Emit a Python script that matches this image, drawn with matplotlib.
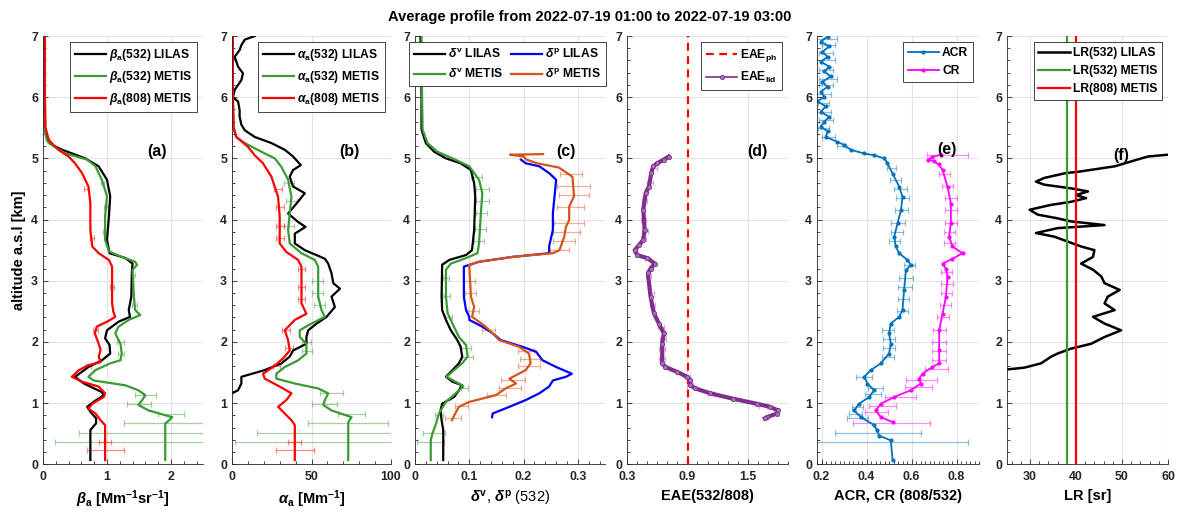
import matplotlib
matplotlib.use('Agg')
import matplotlib.pyplot as plt
from matplotlib.ticker import AutoMinorLocator, MultipleLocator

plt.rcParams['font.family'] = ['Liberation Sans', 'DejaVu Sans']
plt.rcParams['font.weight'] = 'bold'
plt.rcParams['axes.labelweight'] = 'bold'
plt.rcParams['mathtext.fontset'] = 'custom'
plt.rcParams['mathtext.rm'] = 'Liberation Sans'
plt.rcParams['mathtext.it'] = 'Liberation Sans:italic'
plt.rcParams['mathtext.bf'] = 'Liberation Sans:bold'

# ---------------- data ----------------
# (a) backscatter
a_alt_lilas = [7.0, 6.0, 5.5, 5.35, 5.22, 5.14, 5.0, 4.87, 4.65, 4.38, 4.05, 3.67, 3.45, 3.37, 3.28, 3.18, 2.74, 2.52,
               2.41, 2.33, 2.19, 2.06, 1.95, 1.81, 1.70, 1.59, 1.43, 1.32, 1.18, 1.13, 1.02, 0.94, 0.86, 0.75, 0.67,
               0.56, 0.07]
a_beta532_lilas = [0.02, 0.02, 0.03, 0.06, 0.14, 0.30, 0.66, 0.87, 1.0, 1.05, 1.03, 1.0, 1.04, 1.29, 1.40, 1.39, 1.38,
                   1.34, 1.36, 1.18, 1.0, 0.97, 1.04, 1.05, 0.92, 0.71, 0.5, 0.64, 0.92, 0.95, 0.79, 0.69, 0.74, 0.83,
                   0.83, 0.74, 0.74]
a_alt_532_met = [7.0, 6.0, 5.5, 5.3, 5.25, 5.08, 4.98, 4.87, 4.65, 4.38, 4.05, 3.67, 3.48, 3.39, 3.31, 3.26, 3.18, 2.74,
                 2.52, 2.44, 2.36, 2.25, 2.14, 1.97, 1.81, 1.70, 1.65, 1.54, 1.43, 1.37, 1.29, 1.21, 1.13, 1.05, 0.97,
                 0.88, 0.77, 0.69, 0.67, 0.07]
a_beta532_met = [0.0, 0.0, 0.02, 0.06, 0.09, 0.35, 0.69, 0.82, 0.92, 1.0, 0.97, 0.97, 1.03, 1.23, 1.44, 1.47, 1.40, 1.42,
                 1.44, 1.52, 1.34, 1.18, 1.13, 1.21, 1.23, 1.21, 1.05, 0.82, 0.71, 0.79, 1.29, 1.49, 1.6, 1.55, 1.49,
                 1.65, 2.02, 1.94, 1.91, 1.91]
a_alt_808_met = [7.0, 6.0, 5.5, 5.30, 5.14, 5.03, 4.92, 4.76, 4.54, 4.27, 3.83, 3.56, 3.45, 3.34, 3.23, 2.63, 2.49, 2.41,
                 2.33, 2.25, 2.14, 1.97, 1.87, 1.76, 1.67, 1.62, 1.54, 1.43, 1.35, 1.27, 1.16, 1.10, 0.99, 0.91, 0.83,
                 0.72, 0.64, 0.07]
a_beta808_met = [0.03, 0.03, 0.04, 0.09, 0.24, 0.40, 0.5, 0.61, 0.71, 0.74, 0.74, 0.77, 0.87, 1.03, 1.08, 1.08, 1.10,
                 1.13, 1.0, 0.84, 0.81, 0.87, 0.90, 0.87, 0.9, 0.71, 0.56, 0.45, 0.61, 0.87, 0.97, 0.95, 0.77, 0.71,
                 0.82, 0.90, 0.97, 0.97]
a_err532_alt = [4.6, 4.2, 3.8, 3.1, 2.6, 2.0, 1.8, 1.13, 0.98, 0.83, 0.67, 0.51, 0.37]
a_err532_x = [0.93, 0.99, 0.97, 1.40, 1.43, 1.21, 1.22, 1.6, 1.5, 2.0, 1.91, 1.91, 1.91]
a_err532_dx = [0.03, 0.03, 0.03, 0.03, 0.04, 0.05, 0.05, 0.17, 0.19, 0.2, 0.65, 1.35, 1.72]
a_err808_alt = [4.5, 3.7, 2.9, 2.2, 1.6, 0.37, 0.23]
a_err808_x = [0.67, 0.76, 1.08, 0.82, 0.71, 0.97, 0.97]
a_err808_dx = [0.03, 0.03, 0.03, 0.04, 0.04, 0.1, 0.29]

# (b) extinction
b_alt_lilas = [7.0, 6.94, 6.85, 6.77, 6.66, 6.5, 6.39, 6.28, 6.12, 6.0, 5.93, 5.79, 5.68, 5.55, 5.46, 5.35, 5.25, 5.14,
               5.03, 4.89, 4.81, 4.70, 4.54, 4.43, 4.26, 4.10, 3.96, 3.88, 3.77, 3.61, 3.50, 3.36, 3.28, 3.12, 2.96,
               2.87, 2.74, 2.57, 2.41, 2.30, 2.19, 2.08, 1.97, 1.86, 1.76, 1.65, 1.54, 1.43, 1.32, 1.21, 1.16]
b_alpha532_lilas = [14.3, 8, 5.9, 4.8, 1.7, 3.8, 6.9, 5.9, 1.7, 0.6, 3.8, 4.8, 4.8, 5.9, 8, 14.3, 24.8, 33.2, 38.4,
                    43.3, 38.4, 36.3, 38.4, 45.8, 40.5, 35.3, 41.6, 46.2, 39.5, 39.5, 45.8, 58.4, 60.5, 62.6, 63.7,
                    67.9, 62.6, 64.7, 59.5, 53.2, 47.9, 46.8, 46.8, 38.4, 36.3, 31.1, 20.6, 5.9, 5.9, 3.8, 0]
b_alt_532_met = [7.0, 6.0, 5.5, 5.35, 5.25, 5.08, 5.0, 4.86, 4.65, 4.37, 4.10, 3.83, 3.61, 3.45, 3.34, 3.23, 2.74, 2.52,
                 2.41, 2.30, 2.19, 2.08, 1.97, 1.81, 1.70, 1.59, 1.48, 1.40, 1.32, 1.24, 1.16, 1.05, 0.97, 0.88, 0.77,
                 0.69, 0.07]
b_alpha532_met = [0.5, 0.5, 1.0, 2.7, 8, 20.6, 26.9, 31.1, 35.3, 37.4, 36.3, 35.3, 36.3, 43.7, 52.1, 54.2, 54.2, 56.3,
                  58.4, 50, 42.6, 42.6, 46.8, 46.8, 41.6, 33.2, 27.9, 27.9, 39.5, 54.2, 60.5, 58.4, 57.4, 62.6, 75.2,
                  73.1, 73.1]
b_alt_808_met = [7.0, 6.0, 5.5, 5.35, 5.19, 5.05, 4.92, 4.70, 4.37, 4.05, 3.61, 3.47, 3.34, 3.23, 2.63, 2.46, 2.36, 2.19,
                 2.03, 1.86, 1.73, 1.59, 1.48, 1.40, 1.27, 1.16, 1.05, 0.94, 0.83, 0.72, 0.64, 0.07]
b_alpha808_met = [0.5, 0.6, 1.0, 2.7, 10, 14.3, 19.5, 24.8, 29, 30, 30, 34.2, 41.6, 43.7, 43.7, 46.8, 39.5, 33.2, 35.3,
                  36.3, 32.1, 25.8, 19.5, 20.6, 30, 37.4, 34.2, 29, 33.2, 37.4, 39.5, 39.5]
b_err532_alt = [4.6, 4.3, 3.9, 3.0, 2.8, 2.6, 2.0, 1.85, 1.16, 0.99, 0.83, 0.67, 0.51, 0.37]
b_err532_x = [36, 37.5, 36, 54, 54, 55, 46.8, 47, 62.6, 58, 75, 73, 73, 73]
b_err532_dx = [3, 3.5, 3, 3.4, 3.4, 3.4, 3, 3, 7.4, 8, 8.5, 25, 57, 71]
b_err808_alt = [4.5, 4.2, 3.9, 3.7, 3.2, 2.9, 2.7, 2.2, 1.9, 1.6, 0.37, 0.23]
b_err808_x = [29, 30, 30, 30, 43.7, 43.7, 43.7, 34, 36, 28, 39.5, 39.5]
b_err808_dx = [2.5, 2.5, 2.5, 2.5, 2.5, 2.5, 2.5, 2.5, 2.5, 2.5, 4, 12]

# (c) depolarization
c_alt_dv_lilas = [7.0, 6.0, 5.47, 5.25, 5.11, 5.0, 4.92, 4.81, 4.59, 4.38, 3.83, 3.50, 3.42, 3.34, 3.26, 2.74, 2.52,
                  2.36, 2.19, 2.03, 1.92, 1.76, 1.65, 1.54, 1.43, 1.35, 1.29, 1.21, 1.10, 0.99, 0.88, 0.72, 0.56, 0.07]
c_dv_lilas = [0.01, 0.012, 0.012, 0.02, 0.035, 0.057, 0.084, 0.103, 0.109, 0.111, 0.109, 0.105, 0.094, 0.063, 0.05,
              0.049, 0.05, 0.057, 0.066, 0.078, 0.084, 0.087, 0.081, 0.069, 0.057, 0.069, 0.087, 0.081, 0.072, 0.05,
              0.047, 0.049, 0.052, 0.052]
c_alt_dv_met = [7.0, 6.0, 5.47, 5.25, 5.11, 5.0, 4.87, 4.65, 4.43, 4.05, 3.61, 3.45, 3.37, 3.28, 3.18, 2.74, 2.47, 2.30,
                2.08, 1.95, 1.76, 1.65, 1.54, 1.43, 1.32, 1.27, 1.16, 1.02, 0.83, 0.67, 0.50, 0.39, 0.07]
c_dv_met = [0.012, 0.013, 0.014, 0.023, 0.041, 0.069, 0.1, 0.118, 0.124, 0.121, 0.118, 0.115, 0.094, 0.066, 0.057,
            0.057, 0.06, 0.069, 0.081, 0.094, 0.097, 0.087, 0.072, 0.058, 0.081, 0.089, 0.075, 0.057, 0.044, 0.039,
            0.032, 0.029, 0.029]
c_alt_dp_lilas = [4.98, 4.92, 4.87, 4.76, 4.65, 4.38, 4.10, 3.83, 3.56, 3.45, 3.39, 3.31, 3.23, 2.74, 2.52, 2.41, 2.36,
                  2.25, 2.14, 2.03, 1.92, 1.84, 1.70, 1.59, 1.48, 1.43, 1.37, 1.27, 1.16, 1.05, 0.94, 0.83, 0.77]
c_dp_lilas = [0.195, 0.204, 0.229, 0.247, 0.26, 0.257, 0.254, 0.254, 0.247, 0.247, 0.18, 0.118, 0.09, 0.09, 0.094, 0.1,
              0.1, 0.124, 0.143, 0.158, 0.198, 0.223, 0.235, 0.26, 0.289, 0.278, 0.254, 0.247, 0.229, 0.204, 0.174,
              0.143, 0.142]
c_alt_dp_met = [5.07, 5.06, 5.03, 4.98, 4.92, 4.85, 4.70, 4.38, 4.21, 3.99, 3.88, 3.72, 3.50, 3.45, 3.39, 3.31, 3.26,
                2.74, 2.57, 2.41, 2.33, 2.25, 2.14, 2.03, 1.92, 1.81, 1.65, 1.54, 1.40, 1.32, 1.24, 1.13, 1.02, 0.94,
                0.83, 0.72]
c_dp_met = [0.236, 0.175, 0.2, 0.205, 0.225, 0.265, 0.29, 0.293, 0.284, 0.284, 0.278, 0.275, 0.266, 0.254, 0.18, 0.118,
            0.1, 0.103, 0.109, 0.105, 0.118, 0.13, 0.143, 0.155, 0.192, 0.21, 0.213, 0.204, 0.174, 0.186, 0.167, 0.149,
            0.1, 0.081, 0.074, 0.068]
c_errdv_alt = [4.7, 4.5, 4.3, 4.1, 3.85, 3.65, 3.05, 2.75, 2.4, 1.9, 1.75, 1.25, 0.8, 0.51, 0.37]
c_errdv_x = [0.113, 0.124, 0.124, 0.122, 0.12, 0.118, 0.057, 0.058, 0.062, 0.094, 0.097, 0.089, 0.044, 0.035, 0.029]
c_errdv_dx = [0.01, 0.012, 0.012, 0.01, 0.01, 0.01, 0.005, 0.006, 0.006, 0.01, 0.01, 0.008, 0.008, 0.02, 0.025]
c_errdp_alt = [4.75, 4.55, 4.4, 4.2, 3.95, 3.8, 3.65, 3.5, 3.0, 2.8, 2.5, 2.2, 1.85, 1.72, 1.6, 1.38, 1.25, 1.13, 0.95,
               0.75]
c_errdp_x = [0.287, 0.292, 0.293, 0.287, 0.284, 0.279, 0.274, 0.266, 0.101, 0.103, 0.108, 0.135, 0.205, 0.212, 0.21,
             0.18, 0.175, 0.15, 0.085, 0.07]
c_errdp_dx = [0.02, 0.03, 0.028, 0.025, 0.028, 0.025, 0.02, 0.018, 0.01, 0.01, 0.01, 0.012, 0.015, 0.018, 0.02, 0.022,
              0.02, 0.018, 0.012, 0.015]

# (d) extinction angstrom exponent
eae_ph = 0.91
d_alt_lid = [5.03, 4.98, 4.92, 4.87, 4.76, 4.54, 4.43, 4.16, 3.83, 3.67, 3.58, 3.50, 3.42, 3.37, 3.28, 3.20, 3.12, 2.74,
             2.47, 2.30, 2.14, 1.97, 1.65, 1.59, 1.51, 1.43, 1.37, 1.29, 1.24, 1.16, 1.07, 0.99, 0.94, 0.88, 0.83,
             0.77, 0.75]
d_eae_lid = [0.715, 0.666, 0.6, 0.56, 0.541, 0.518, 0.485, 0.462, 0.475, 0.462, 0.419, 0.376, 0.402, 0.501, 0.577, 0.534,
             0.508, 0.534, 0.567, 0.617, 0.666, 0.65, 0.65, 0.682, 0.798, 0.897, 0.93, 0.93, 0.979, 1.128, 1.358,
             1.589, 1.72, 1.80, 1.79, 1.69, 1.67]
d_err_alt = [4.85, 4.6, 4.3, 4.0, 3.82, 3.68, 3.35, 3.08, 2.8, 2.6, 2.25, 2.05, 1.88, 1.72, 1.45, 1.3, 1.15, 0.95]
d_err_x = [0.57, 0.53, 0.47, 0.465, 0.475, 0.46, 0.50, 0.51, 0.54, 0.55, 0.64, 0.655, 0.65, 0.65, 0.90, 0.93, 1.13, 1.65]
d_err_dx = [0.03, 0.03, 0.025, 0.025, 0.03, 0.025, 0.025, 0.025, 0.025, 0.025, 0.03, 0.03, 0.03, 0.03, 0.03, 0.03,
            0.03, 0.04]

# (e) colour ratios
e_alt_acr = [6.99, 6.91, 6.83, 6.74, 6.66, 6.58, 6.50, 6.42, 6.34, 6.25, 6.17, 6.09, 6.01, 5.93, 5.85, 5.76, 5.68, 5.60,
             5.52, 5.44, 5.35, 5.27, 5.22, 5.14, 5.08, 5.05, 5.00, 4.92, 4.75, 4.54, 4.37, 4.15, 3.94, 3.72, 3.56,
             3.45, 3.34, 3.26, 3.17, 2.85, 2.52, 2.41, 2.30, 2.14, 1.97, 1.81, 1.65, 1.54, 1.43, 1.32, 1.21, 1.10,
             0.99, 0.88, 0.77, 0.64, 0.56, 0.47, 0.39, 0.07]
e_acr = [0.227, 0.197, 0.234, 0.204, 0.227, 0.197, 0.234, 0.212, 0.241, 0.204, 0.227, 0.197, 0.212, 0.182, 0.219, 0.197,
         0.234, 0.212, 0.197, 0.227, 0.219, 0.271, 0.3, 0.33, 0.39, 0.434, 0.479, 0.493, 0.516, 0.545, 0.56, 0.553,
         0.538, 0.523, 0.53, 0.545, 0.582, 0.597, 0.575, 0.567, 0.56, 0.545, 0.508, 0.50, 0.508, 0.50, 0.464, 0.419,
         0.39, 0.404, 0.434, 0.412, 0.367, 0.345, 0.375, 0.434, 0.446, 0.456, 0.508, 0.516]
e_alt_cr = [5.06, 5.02, 4.98, 4.95, 4.90, 4.81, 4.54, 4.26, 3.94, 3.72, 3.56, 3.45, 3.36, 3.28, 3.20, 3.06, 2.74, 2.46,
            2.19, 1.86, 1.65, 1.59, 1.48, 1.40, 1.32, 1.21, 1.10, 0.99, 0.88, 0.77, 0.69]
e_cr = [0.73, 0.69, 0.675, 0.70, 0.72, 0.738, 0.76, 0.775, 0.775, 0.767, 0.782, 0.827, 0.782, 0.738, 0.753, 0.76, 0.753,
        0.738, 0.723, 0.723, 0.723, 0.693, 0.649, 0.634, 0.641, 0.597, 0.523, 0.464, 0.441, 0.464, 0.516]
e_erracr_alt = [6.95, 6.85, 6.72, 6.6, 6.45, 6.3, 6.2, 6.05, 5.9, 5.75, 5.62, 5.5, 5.35, 5.2, 4.85, 4.65, 4.5, 4.35,
                4.15, 3.95, 3.8, 3.65, 3.25, 3.05, 2.9, 2.7, 2.5, 2.2, 2.05, 1.9, 1.75, 1.42, 1.25, 1.15, 0.93, 0.83,
                0.75, 0.51, 0.37]
e_erracr_x = [0.22, 0.23, 0.22, 0.22, 0.22, 0.23, 0.22, 0.21, 0.21, 0.21, 0.22, 0.21, 0.23, 0.29, 0.51, 0.53, 0.55,
              0.56, 0.555, 0.54, 0.535, 0.525, 0.59, 0.575, 0.57, 0.565, 0.56, 0.495, 0.50, 0.50, 0.495, 0.39, 0.44,
              0.43, 0.36, 0.35, 0.36, 0.45, 0.51]
e_erracr_dx = [0.05, 0.03, 0.03, 0.04, 0.03, 0.04, 0.03, 0.03, 0.025, 0.03, 0.03, 0.025, 0.03, 0.02, 0.02, 0.025, 0.03,
               0.03, 0.03, 0.03, 0.025, 0.025, 0.025, 0.03, 0.03, 0.025, 0.025, 0.025, 0.025, 0.025, 0.025, 0.035,
               0.035, 0.035, 0.025, 0.03, 0.045, 0.19, 0.34]
e_errcr_alt = [5.06, 4.75, 4.55, 4.35, 4.15, 3.95, 3.8, 3.62, 3.15, 2.95, 2.8, 2.6, 2.4, 2.2, 2.0, 1.85, 1.7, 1.55, 1.38,
               1.27, 1.1, 0.95, 0.85, 0.67]
e_errcr_x = [0.76, 0.745, 0.76, 0.775, 0.775, 0.775, 0.77, 0.77, 0.755, 0.758, 0.755, 0.75, 0.74, 0.725, 0.723, 0.723,
             0.723, 0.71, 0.645, 0.63, 0.55, 0.47, 0.445, 0.51]
e_errcr_dx = [0.09, 0.025, 0.025, 0.025, 0.025, 0.025, 0.025, 0.025, 0.025, 0.025, 0.025, 0.025, 0.025, 0.03, 0.03,
              0.03, 0.03, 0.05, 0.07, 0.06, 0.07, 0.06, 0.05, 0.17]

# (f) lidar ratio
lr532_metis = 38
lr808_metis = 40
f_alt_lilas = [5.06, 5.03, 4.95, 4.87, 4.78, 4.76, 4.68, 4.62, 4.57, 4.51, 4.46, 4.40, 4.35, 4.29, 4.24, 4.16, 4.08,
               4.02, 3.97, 3.91, 3.86, 3.78, 3.72, 3.64, 3.56, 3.50, 3.39, 3.28, 3.18, 3.07, 2.96, 2.85, 2.74, 2.63,
               2.52, 2.41, 2.30, 2.19, 2.08, 1.97, 1.89, 1.81, 1.76, 1.65, 1.58, 1.55]
f_lr532_lilas = [60, 55.6, 52, 48.4, 40.4, 37.8, 33.1, 31.3, 33.1, 38.9, 42.6, 40, 42.2, 38.9, 34.6, 29.9, 31.7, 36,
                 38.9, 46.2, 36, 31.3, 35.3, 38.2, 41.1, 44, 43.7, 41.1, 43.7, 45.5, 46.2, 49.5, 46.9, 46.2, 48.4,
                 43.7, 46.2, 49.8, 46.2, 43.3, 38.9, 36, 34.6, 32.4, 28.8, 25]

BLACK = 'k'
GREEN = '#3a9b35'
RED = '#ff0000'
BLUE = '#0000ff'
ORANGE = '#d95319'
PURPLE = '#7e2f8e'
ACRBLUE = '#0072bd'
MAGENTA = '#ff00ff'


def errs(ax, x, y, dx, color):
    ax.errorbar(x, y, xerr=dx, fmt='none', ecolor=color, alpha=0.45, elinewidth=0.9, capsize=2.2, capthick=0.9)


def style(ax, xlim, xticks, xminor):
    ax.set_xlim(xlim)
    ax.set_ylim(0, 7)
    ax.set_xticks(xticks)
    ax.set_yticks(range(8))
    ax.xaxis.set_minor_locator(AutoMinorLocator(xminor))
    ax.yaxis.set_minor_locator(MultipleLocator(0.2))
    ax.grid(True, color='#e4e4e4', lw=0.8)
    ax.set_axisbelow(True)
    ax.tick_params(direction='in', labelsize=8.9, colors='#262626', length=3.5, width=0.6)
    ax.tick_params(axis='x', pad=5)
    ax.tick_params(which='minor', direction='in', length=2, width=0.5)
    for s in ['top', 'right']:
        ax.spines[s].set_visible(False)
    for s in ['left', 'bottom']:
        ax.spines[s].set_color('#262626')
        ax.spines[s].set_linewidth(0.6)


def legend(ax, right, **kw):
    leg = ax.legend(loc='upper right', bbox_to_anchor=(right, 0.985), borderaxespad=0, fancybox=False, framealpha=1,
                    edgecolor='#262626', fontsize=8.7, handlelength=2.6, handletextpad=0.25, borderpad=0.4,
                    labelspacing=0.5, **kw)
    leg.get_frame().set_linewidth(0.6)


fig = plt.figure(figsize=(11.79, 5.18), dpi=100)
W, H = 1179, 518
panel_px = [(43, 160), (232, 159), (415, 190), (627, 161), (817, 162), (1007, 161)]
axs = [fig.add_axes([x / W, 1 - 464.3 / H, w / W, 428.3 / H]) for x, w in panel_px]

# (a)
ax = axs[0]
errs(ax, a_err532_x, a_err532_alt, a_err532_dx, GREEN)
errs(ax, a_err808_x, a_err808_alt, a_err808_dx, RED)
ax.plot(a_beta532_lilas, a_alt_lilas, color=BLACK, lw=1.6, label=r'$\beta_\mathbf{a}$(532) LILAS')
ax.plot(a_beta532_met, a_alt_532_met, color=GREEN, lw=1.6, label=r'$\beta_\mathbf{a}$(532) METIS')
ax.plot(a_beta808_met, a_alt_808_met, color=RED, lw=1.6, label=r'$\beta_\mathbf{a}$(808) METIS')
style(ax, (0, 2.5), [0, 1, 2], 5)
legend(ax, 0.9625)
ax.set_xlabel(r'$\beta_\mathbf{a}$ [Mm$^{\mathbf{-1}}$sr$^{\mathbf{-1}}$]', fontsize=10.5)
ax.set_ylabel('altitude a.s.l [km]', fontsize=10.5)

# (b)
ax = axs[1]
errs(ax, b_err532_x, b_err532_alt, b_err532_dx, GREEN)
errs(ax, b_err808_x, b_err808_alt, b_err808_dx, RED)
ax.plot(b_alpha532_lilas, b_alt_lilas, color=BLACK, lw=1.6, label=r'$\alpha_\mathbf{a}$(532) LILAS')
ax.plot(b_alpha532_met, b_alt_532_met, color=GREEN, lw=1.6, label=r'$\alpha_\mathbf{a}$(532) METIS')
ax.plot(b_alpha808_met, b_alt_808_met, color=RED, lw=1.6, label=r'$\alpha_\mathbf{a}$(808) METIS')
style(ax, (0, 100), [0, 50, 100], 5)
legend(ax, 0.962)
ax.set_xlabel(r'$\alpha_\mathbf{a}$ [Mm$^{\mathbf{-1}}$]', fontsize=10.5)

# (c)
ax = axs[2]
errs(ax, c_errdv_x, c_errdv_alt, c_errdv_dx, GREEN)
errs(ax, c_errdp_x, c_errdp_alt, c_errdp_dx, ORANGE)
ax.plot(c_dv_lilas, c_alt_dv_lilas, color=BLACK, lw=1.6, label=r'$\delta^\mathbf{v}$ LILAS')
ax.plot(c_dv_met, c_alt_dv_met, color=GREEN, lw=1.6, label=r'$\delta^\mathbf{v}$ METIS')
ax.plot(c_dp_lilas, c_alt_dp_lilas, color=BLUE, lw=1.6, label=r'$\delta^\mathbf{p}$ LILAS')
ax.plot(c_dp_met, c_alt_dp_met, color=ORANGE, lw=1.6, label=r'$\delta^\mathbf{p}$ METIS')
style(ax, (0, 0.35), [0, 0.1, 0.2, 0.3], 5)
ax.set_xticklabels(['0', '0.1', '0.2', '0.3'])
legend(ax, 1.005, ncol=2, columnspacing=0.6)
ax.set_xlabel(r'$\delta^\mathrm{v}$, $\delta^\mathrm{p}$ (532)', fontsize=10.5, fontweight='normal')

# (d)
ax = axs[3]
errs(ax, d_err_x, d_err_alt, d_err_dx, '#d040d0')
ax.axvline(eae_ph, color=RED, lw=1.6, ls=(0, (3.5, 2.5)), label=r'EAE$_{\mathbf{ph}}$')
ax.plot(d_eae_lid, d_alt_lid, color=PURPLE, lw=3, marker='o', ms=3, mfc='#a673b3', mec=PURPLE, mew=0.6,
        label=r'EAE$_{\mathbf{lid}}$')
style(ax, (0.3, 1.9), [0.3, 0.9, 1.5], 6)
legend(ax, 0.963)
leg = ax.get_legend()
leg.legend_handles[1].set_linewidth(1.2)
ax.set_xlabel('EAE(532/808)', fontsize=10.5)

# (e)
ax = axs[4]
errs(ax, e_erracr_x, e_erracr_alt, e_erracr_dx, ACRBLUE)
errs(ax, e_errcr_x, e_errcr_alt, e_errcr_dx, MAGENTA)
ax.plot(e_acr, e_alt_acr, color=ACRBLUE, lw=1.3, marker='.', ms=4, label='ACR')
ax.plot(e_cr, e_alt_cr, color=MAGENTA, lw=1.3, marker='.', ms=4, label='CR')
style(ax, (0.18, 0.9), [0.2, 0.4, 0.6, 0.8], 10)
legend(ax, 0.963)
ax.set_xlabel('ACR, CR (808/532)', fontsize=10.5)

# (f)
ax = axs[5]
ax.plot(f_lr532_lilas, f_alt_lilas, color=BLACK, lw=1.8, label='LR(532) LILAS')
ax.axvline(lr532_metis, color=GREEN, lw=1.6, label='LR(532) METIS')
ax.axvline(lr808_metis, color=RED, lw=1.6, label='LR(808) METIS')
style(ax, (25, 60), [30, 40, 50, 60], 5)
legend(ax, 0.963)
ax.set_xlabel('LR [sr]', fontsize=10.5)

# panel tags
tags = [('(a)', 0.71, 0.73), ('(b)', 0.736, 0.73), ('(c)', 0.795, 0.73), ('(d)', 0.81, 0.73), ('(e)', 0.80, 0.736),
        ('(f)', 0.71, 0.722)]
for ax, (t, tx, ty) in zip(axs, tags):
    ax.text(tx, ty, t, transform=ax.transAxes, ha='center', va='center', fontsize=11.5, fontweight='bold')

fig.text(0.5, 1 - 17 / H, 'Average profile from 2022-07-19 01:00 to 2022-07-19 03:00', ha='center', va='center',
         fontsize=10.5, fontweight='bold')

fig.savefig('out.png', dpi=100)
